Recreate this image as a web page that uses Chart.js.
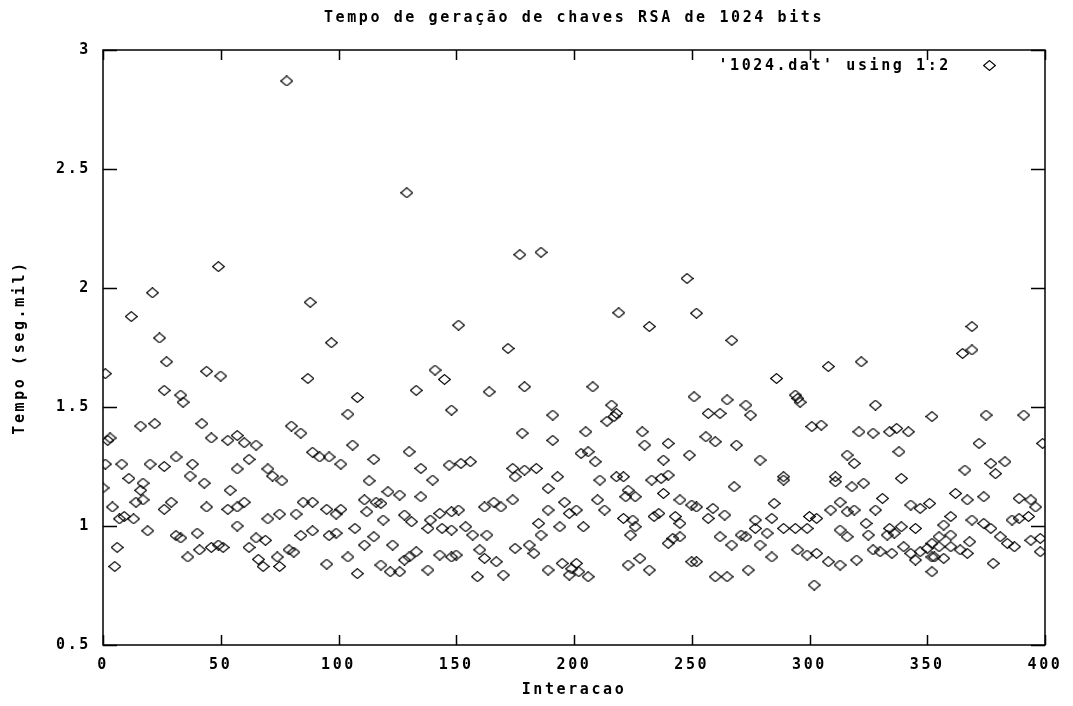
<!DOCTYPE html>
<html>
<head>
<meta charset="utf-8">
<style>
  html, body { margin: 0; background: #fff; }
</style>
<script src="https://cdn.jsdelivr.net/npm/chart.js@4/dist/chart.umd.min.js"></script>
</head>
<body>
<canvas id="grafico" width="1073" height="706"></canvas>
<script>
const titulo = "Tempo de geração de chaves RSA de 1024 bits";
const legenda = "'1024.dat' using 1:2";
const tituloX = "Interacao";
const tituloY = "Tempo (seg.mil)";
const xTicks = [0, 50, 100, 150, 200, 250, 300, 350, 400];
const yTicks = [0.5, 1, 1.5, 2, 2.5, 3];

const iteracao = [
  0,1,1,2,3,4,5,6,7,8,9,11,12,13,14,16,16,17,17,19,20,21,22,24,26,26,26,27,29,31,31,33,33,34,36,37,38,40,41,42,43,44,44,46,46,49,49,
  50,51,53,53,54,57,57,57,57,60,60,62,62,65,65,66,68,69,70,70,72,74,75,75,76,78,79,80,81,82,84,84,85,87,88,89,89,89,92,95,95,96,96,97,99,
  99,101,101,104,104,106,107,108,108,111,111,112,113,115,115,116,118,118,119,121,122,123,126,126,128,128,129,130,130,131,133,133,135,135,138,138,139,140,141,143,143,144,145,147,148,148,148,148,151,
  150,151,152,154,156,157,159,160,162,162,163,164,166,167,169,170,172,174,174,175,175,177,178,179,179,181,183,184,185,186,186,189,189,189,191,191,193,194,195,196,198,198,199,
  201,201,202,203,204,205,206,206,208,209,210,211,213,214,216,217,218,218,219,221,221,222,223,223,224,225,226,226,228,229,230,232,232,233,234,236,237,238,238,240,240,240,242,243,245,245,245,248,249,250,250,
  251,252,252,252,256,257,257,259,260,260,262,262,264,265,265,267,267,268,269,271,273,273,274,275,277,277,279,279,282,284,284,285,286,289,289,289,294,294,295,295,296,299,299,300,301,302,303,
  303,305,308,308,309,311,311,313,313,313,316,316,316,318,319,319,320,321,322,323,324,325,327,327,328,328,330,331,333,334,334,335,336,337,338,339,339,340,342,343,343,345,345,347,347,350,351,352,352,352,
  352,353,355,355,357,357,360,360,360,362,364,365,366,367,367,368,369,369,369,372,374,374,375,377,377,378,379,381,383,384,386,387,389,389,391,393,394,394,396,398,398,399
];
const tempo = [
  1.16,1.64,1.26,1.36,1.37,1.08,0.83,0.91,1.03,1.26,1.04,1.20,1.88,1.03,1.10,1.42,1.15,1.18,1.11,0.98,1.26,1.98,1.43,1.79,1.57,1.25,1.07,1.69,1.10,1.29,0.96,1.55,0.95,1.52,0.87,1.21,1.26,0.97,0.90,1.43,1.18,1.65,1.08,1.37,0.91,0.92,2.09,
  1.63,0.91,1.36,1.07,1.15,1.38,1.24,1.08,1.00,1.35,1.10,1.28,0.91,1.34,0.95,0.86,0.83,0.94,1.24,1.03,1.21,0.87,1.05,0.83,1.19,2.87,0.90,1.42,0.89,1.05,1.39,0.96,1.10,1.62,1.94,1.31,1.10,0.98,1.29,1.07,0.84,1.29,0.96,1.77,1.05,
  0.97,1.26,1.07,1.47,0.87,1.34,0.99,1.54,0.80,1.11,0.92,1.06,1.19,1.28,0.955,1.10,1.095,0.836,1.025,1.144,0.808,0.92,1.13,0.808,1.046,0.857,2.40,1.312,0.87,1.018,1.57,0.892,1.242,1.123,0.99,0.815,1.025,1.193,1.655,1.053,0.878,0.99,1.616,1.256,1.487,1.06,0.983,0.87,1.844,
  0.878,1.067,1.263,0.997,1.27,0.962,0.787,0.90,1.08,0.864,0.962,1.564,1.10,0.85,1.08,0.794,1.746,1.242,1.11,1.207,0.906,2.14,1.39,1.585,1.235,0.92,0.885,1.242,1.011,2.15,0.962,1.158,1.067,0.815,1.466,1.36,1.207,0.997,0.843,1.10,1.053,0.794,0.82,
  1.067,0.843,0.808,1.305,0.997,1.396,1.312,0.787,1.585,1.27,1.11,1.193,1.067,1.44,1.508,1.46,1.473,1.207,1.896,1.207,1.032,1.123,1.15,0.836,0.962,1.025,1.123,0.997,0.864,1.396,1.34,1.838,0.815,1.193,1.04,1.053,1.20,1.277,1.137,1.347,1.214,0.927,0.948,1.04,1.11,1.011,0.955,2.04,1.298,1.088,0.85,
  1.543,1.894,1.08,0.85,1.375,1.473,1.032,1.074,1.354,0.787,1.473,0.955,1.046,1.53,0.787,1.78,0.92,1.165,1.34,0.962,1.508,0.955,0.815,1.466,1.025,0.99,1.277,0.92,0.97,1.032,0.87,1.095,1.62,1.207,1.193,0.99,1.55,0.99,1.536,0.90,1.52,0.99,0.878,1.04,1.418,0.752,0.885,
  1.032,1.424,1.67,0.85,1.067,1.207,1.186,1.10,0.983,0.836,1.298,1.06,0.955,1.165,1.263,1.067,0.857,1.396,1.69,1.18,1.011,0.962,1.39,0.90,1.508,1.067,0.892,1.116,0.962,1.396,0.99,0.885,0.97,1.41,1.312,1.20,0.997,0.913,1.396,1.088,0.885,0.99,0.857,1.074,0.892,0.906,1.095,1.46,0.87,0.808,
  0.927,0.87,0.913,0.955,1.004,0.864,1.04,0.913,0.962,1.137,0.90,1.725,1.235,1.11,0.885,0.934,1.838,1.74,1.025,1.347,1.123,1.011,1.466,1.263,0.99,0.843,1.22,0.955,1.27,0.927,1.025,0.913,1.116,1.032,1.466,1.04,1.11,0.94,1.08,0.948,0.892,1.347
];

const fonte = { family: '"DejaVu Sans Mono", monospace', size: 15, weight: 'bold' };

// losango do gnuplot, um pouco mais largo que alto
function losango() {
  const c = document.createElement('canvas');
  c.width = 13; c.height = 11;
  const g = c.getContext('2d');
  g.strokeStyle = '#000';
  g.lineWidth = 1.2;
  g.beginPath();
  g.moveTo(6.5, 0.6); g.lineTo(12.4, 5.5); g.lineTo(6.5, 10.4); g.lineTo(0.6, 5.5);
  g.closePath();
  g.stroke();
  return c;
}
const marca = losango();

const espacamento = {
  id: 'espacamento',
  beforeDraw(chart) { chart.ctx.letterSpacing = '2.6px'; }
};

// moldura, ticks para dentro e legenda no estilo gnuplot
const moldura = {
  id: 'moldura',
  afterDatasetsDraw(chart) {
    const { ctx, chartArea: a, scales: { x, y } } = chart;
    ctx.save();
    ctx.strokeStyle = '#000';
    ctx.lineWidth = 1.5;
    ctx.strokeRect(a.left, a.top, a.right - a.left, a.bottom - a.top);
    ctx.beginPath();
    x.ticks.forEach(t => {
      const px = Math.round(x.getPixelForValue(t.value)) + 0.5;
      ctx.moveTo(px, a.bottom); ctx.lineTo(px, a.bottom - 10);
      ctx.moveTo(px, a.top); ctx.lineTo(px, a.top + 10);
    });
    y.ticks.forEach(t => {
      const py = Math.round(y.getPixelForValue(t.value)) + 0.5;
      ctx.moveTo(a.left, py); ctx.lineTo(a.left + 14, py);
      ctx.moveTo(a.right, py); ctx.lineTo(a.right - 14, py);
    });
    ctx.stroke();

    ctx.font = 'bold 15px "DejaVu Sans Mono", monospace';
    ctx.fillStyle = '#000';
    ctx.textAlign = 'right';
    ctx.textBaseline = 'middle';
    ctx.fillText(chart.data.datasets[0].label, a.right - 94, a.top + 16);
    ctx.drawImage(marca, a.right - 62, a.top + 10);
    ctx.restore();
  }
};

new Chart(document.getElementById('grafico'), {
  type: 'scatter',
  data: {
    datasets: [{
      label: legenda,
      data: iteracao.map((v, i) => ({ x: v, y: tempo[i] })),
      pointStyle: marca,
      pointRadius: 6,
      pointHoverRadius: 6,
      pointHitRadius: 0
    }]
  },
  options: {
    responsive: false,
    animation: false,
    events: [],
    layout: { padding: { left: 0, right: 28, top: 0, bottom: 0 } },
    plugins: {
      legend: { display: false },
      tooltip: { enabled: false },
      title: {
        display: true,
        text: titulo,
        fullSize: false,
        color: '#000',
        font: fonte,
        padding: { top: 9, bottom: 23 }
      }
    },
    scales: {
      x: {
        type: 'linear',
        min: 0, max: 400,
        afterBuildTicks: s => { s.ticks = xTicks.map(v => ({ value: v })); },
        afterFit: s => { s.height = 61; },
        grid: { display: false, drawTicks: false },
        border: { display: false },
        ticks: { color: '#000', font: fonte, padding: 11, maxRotation: 0 },
        title: { display: true, text: tituloX, color: '#000', font: fonte, padding: { top: 8, bottom: 7 } }
      },
      y: {
        type: 'linear',
        min: 0.5, max: 3,
        afterBuildTicks: s => { s.ticks = yTicks.map(v => ({ value: v })); },
        afterFit: s => { s.width = 103; },
        grid: { display: false, drawTicks: false },
        border: { display: false },
        ticks: { color: '#000', font: fonte, padding: 12, callback: v => String(v) },
        title: { display: true, text: tituloY, color: '#000', font: fonte, padding: { top: 11, bottom: 0 } }
      }
    }
  },
  plugins: [espacamento, moldura]
});
</script>
</body>
</html>
